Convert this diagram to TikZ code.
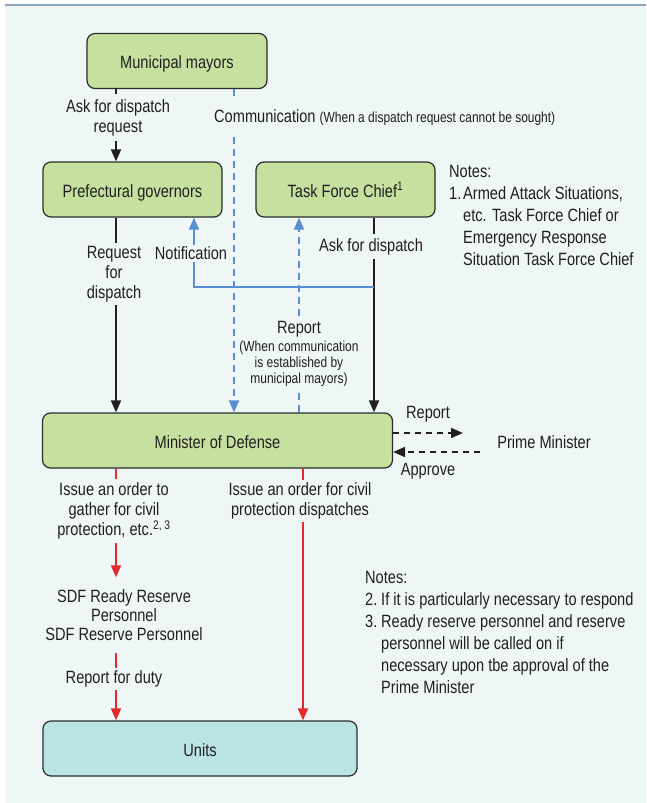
\documentclass[tikz,border=0pt]{standalone}
\usepackage{fontspec}
\setmainfont{Liberation Sans}[FakeStretch=0.82]
\usetikzlibrary{arrows.meta,calc}
\definecolor{bgc}{HTML}{EEF7F6}
\definecolor{topline}{HTML}{8AA4BF}
\definecolor{boxgreen}{HTML}{C6E0A0}
\definecolor{boxteal}{HTML}{BAE3E4}
\definecolor{boxline}{HTML}{2B2B2B}
\definecolor{lineblue}{HTML}{5A8ED2}
\definecolor{linered}{HTML}{E52A2F}
\definecolor{arrblack}{HTML}{231F20}
\newcommand{\mainsz}{\fontsize{17.8}{20}\selectfont}
\newcommand{\smallsz}{\fontsize{14.6}{16}\selectfont}
\newcommand{\notesz}{\fontsize{17.8}{22}\selectfont}
\begin{document}
\begin{tikzpicture}[x=1pt,y=-1pt,
  box/.style={draw=boxline,line width=1.2pt,rounded corners=8pt,fill=boxgreen,minimum height=55pt,inner sep=0pt,font=\mainsz,text=arrblack,text height=15pt,text depth=0pt},
  lbl/.style={fill=bgc,inner xsep=1.5pt,inner ysep=3pt,align=center,font=\mainsz,text=arrblack},
  txt/.style={inner sep=0pt,align=center,font=\mainsz,text=arrblack},
  blk/.style={draw=arrblack,line width=1.8pt,-{Triangle[length=12pt,width=10pt]}},
  blu/.style={draw=lineblue,line width=1.8pt,-{Triangle[length=12pt,width=10pt]}},
  bludash/.style={blu,dash pattern=on 7pt off 5pt},
  blkdash/.style={blk,dash pattern=on 6pt off 5pt},
  redarr/.style={draw=linered,line width=1.8pt,-{Triangle[length=12pt,width=10pt]}},
]
\useasboundingbox (0,0) rectangle (646,803);
\fill[white] (0,0) rectangle (646,803);
\fill[bgc] (5,6) rectangle (646,803);
\draw[topline,line width=2pt] (5,5) -- (646,5);

% x positions
\coordinate (xA) at (116,0);
\coordinate (xC) at (234,0);
\coordinate (xN) at (194,0);
\coordinate (xM) at (299,0);
\coordinate (xR) at (374,0);
\coordinate (xR2) at (303,0);

% boxes
\node[box,minimum width=180pt] (may) at (177,61) {Municipal mayors};
\node[box,minimum width=179pt] (gov) at (132.5,189.5) {Prefectural governors};
\node[box,minimum width=179pt] (task) at (345.5,189.5) {Task Force Chief\textsuperscript{1}};
\node[box,minimum width=350pt] (min) at (217.5,440.5) {Minister of Defense};
\node[box,minimum width=314pt,fill=boxteal] (units) at (200,748.5) {Units};
\node[txt] (pm) at (544,442) {Prime Minister};
\node[txt,font={\fontsize{17.8}{19}\selectfont},inner ysep=12pt] (sdf) at (124,615) {SDF Ready Reserve\\Personnel\\SDF Reserve Personnel};

\coordinate (nj) at (374,287);
\coordinate (rp) at (463,433);
\coordinate (ap) at (480,452);

% connectors
\draw[blk] (may.south -| xA) -- (gov.north -| xA);
\draw[bludash] (may.south -| xC) -- (min.north -| xC);
\draw[blk] (gov.south -| xA) -- (min.north -| xA);
\draw[blk] (task.south -| xR) -- (min.north -| xR);
\draw[blu] (nj) -| (gov.south -| xN);
\draw[bludash] (min.north -| xM) -- (task.south -| xM);
\draw[blkdash] (min.east |- rp) -- (rp);
\draw[blkdash] (ap) -- (min.east |- ap);
\draw[redarr] (min.south -| xA) -- (sdf.north -| xA);
\draw[redarr] (sdf.south -| xA) -- (units.north -| xA);
\draw[redarr] (min.south -| xR2) -- (units.north -| xR2);

% labels
\node[lbl,inner ysep=5pt] at (118,117.5) {Ask for dispatch\\request};
\node[lbl,anchor=west,inner ysep=10pt,inner xsep=2pt] at (212,118) {Communication {\smallsz (When a dispatch request cannot be sought)}};
\node[lbl] at (114,274) {Request\\for\\dispatch};
\node[lbl,inner ysep=2pt] at (191,253.5) {Notification};
\node[lbl,inner ysep=4pt] at (371,246.5) {Ask for dispatch};
\node[lbl,font=\smallsz,inner ysep=2pt] at (299,354) {{\mainsz Report}\\[2pt](When communication\\is established by\\municipal mayors)};
\node[lbl,inner ysep=4pt] at (114,511) {Issue an order to\\gather for civil\\protection, etc.\textsuperscript{2, 3}};
\node[lbl] at (300,501) {Issue an order for civil\\protection dispatches};
\node[lbl] at (114,679) {Report for duty};
\node[txt] at (428,414) {Report};
\node[txt] at (428,471) {Approve};

% notes
\node[anchor=north west,inner sep=0pt,align=left,font=\notesz,text=arrblack] at (449,165)
  {Notes:\\\makebox[14pt][l]{1.}Armed Attack Situations,\\\hspace*{14pt}etc. Task Force Chief or\\\hspace*{14pt}Emergency Response\\\hspace*{14pt}Situation Task Force Chief};
\node[anchor=north west,inner sep=0pt,align=left,font=\notesz,text=arrblack] at (365,571)
  {Notes:\\\makebox[16pt][l]{2.}If it is particularly necessary to respond\\\makebox[16pt][l]{3.}Ready reserve personnel and reserve\\\hspace*{16pt}personnel will be called on if\\\hspace*{16pt}necessary upon tbe approval of the\\\hspace*{16pt}Prime Minister};
\end{tikzpicture}
\end{document}
